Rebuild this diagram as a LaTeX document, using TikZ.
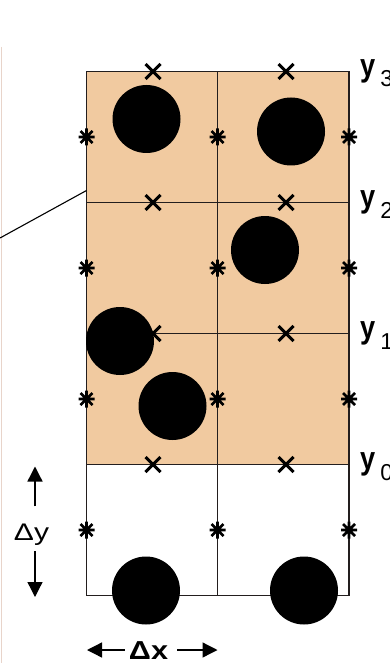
\documentclass[tikz,border=0pt]{standalone}
\usepackage{fontspec}
\setmainfont{Liberation Sans}
\usetikzlibrary{arrows.meta,positioning,calc}

\definecolor{cellfill}{RGB}{241,202,160}
\definecolor{gridline}{RGB}{35,30,30}
\definecolor{edgeline}{RGB}{232,212,202}

\newcommand{\lvltext}[1]{\scalebox{0.85}[1]{y}\kern5pt\raisebox{-10.5pt}{\mdseries\fontsize{23}{23}\selectfont #1}}

\begin{document}
\begin{tikzpicture}[x=1pt,y=-1pt,>={Triangle[length=15pt,width=15pt]},
  grid/.style={draw=gridline,line width=1.3pt},
  ball/.style={fill=black},
  xmark/.style={line width=3pt},
  smark/.style={line width=2.7pt},
  lvl/.style={anchor=base west,inner sep=0pt,font=\fontsize{32}{32}\selectfont\bfseries},
  dlabel/.style={anchor=base,inner sep=1pt,font=\fontsize{24}{24}\selectfont},
  darrow/.style={->,line width=1.3pt}]
\useasboundingbox (0,0) rectangle (389,663);
\clip (0,0) rectangle (389,663);
% cells
\fill[cellfill] (86.5,71.5) rectangle (349,464.5);
\foreach \y in {71.5,202.5,333.5,464.5,595.5}
  \draw[grid] (86.5,\y) -- (349,\y);
\foreach \x in {86.5,217.5,349}
  \draw[grid] (\x,71.5) -- (\x,595.5);
\draw[edgeline,line width=1.5pt] (1.5,47) -- (1.5,663);
\draw[line width=1.1pt] (0,238) -- (86.5,190.5);
% face and side points
\foreach \y in {71.5,202.5,333.5,464.5}
  \foreach \x in {153,286}
    \draw[xmark,shift={(\x,\y)}] (-7.5,-7.5) -- (7.5,7.5) (-7.5,7.5) -- (7.5,-7.5);
\foreach \y in {137,268,399,530}
  \foreach \x in {86.5,217.5,349}
    \draw[smark,shift={(\x,\y)}] (0,-8.5) -- (0,8.5) (-8,0) -- (8,0)
      (-6,-6) -- (6,6) (-6,6) -- (6,-6);
% particles
\foreach \cx/\cy in {146.5/119,291/131.5,265/250,120/341,172.5/406,146/590.5,304/590.5}
  \fill[ball] (\cx,\cy) circle[radius=34];
% levels
\node[lvl] (lvl3) at (360,76.5) {\lvltext{3}};
\node[lvl] (lvl2) at (360,207.5) {\lvltext{2}};
\node[lvl] (lvl1) at (360,338.5) {\lvltext{1}};
\node[lvl] (lvl0) at (360,469.5) {\lvltext{0}};
% spacings
\node[dlabel] (dy) at (31.5,540) {\scalebox{1.25}[1]{Δy}};
\coordinate (dytop) at (35,466.5);
\coordinate (dybot) at (35,597);
\draw[darrow,shorten <=16pt] (dy.north -| dytop) -- (dytop);
\draw[darrow,shorten <=5pt] (dy.south -| dybot) -- (dybot);
\node[dlabel,font=\fontsize{26}{26}\selectfont\bfseries] (dx) at (148.5,659) {\scalebox{1.18}[1]{Δx}};
\coordinate (dxleft) at (87,650);
\coordinate (dxright) at (217.5,650);
\draw[darrow,shorten <=3pt] (dx.west |- dxleft) -- (dxleft);
\draw[darrow,shorten <=8pt] (dx.east |- dxright) -- (dxright);
\end{tikzpicture}
\end{document}
